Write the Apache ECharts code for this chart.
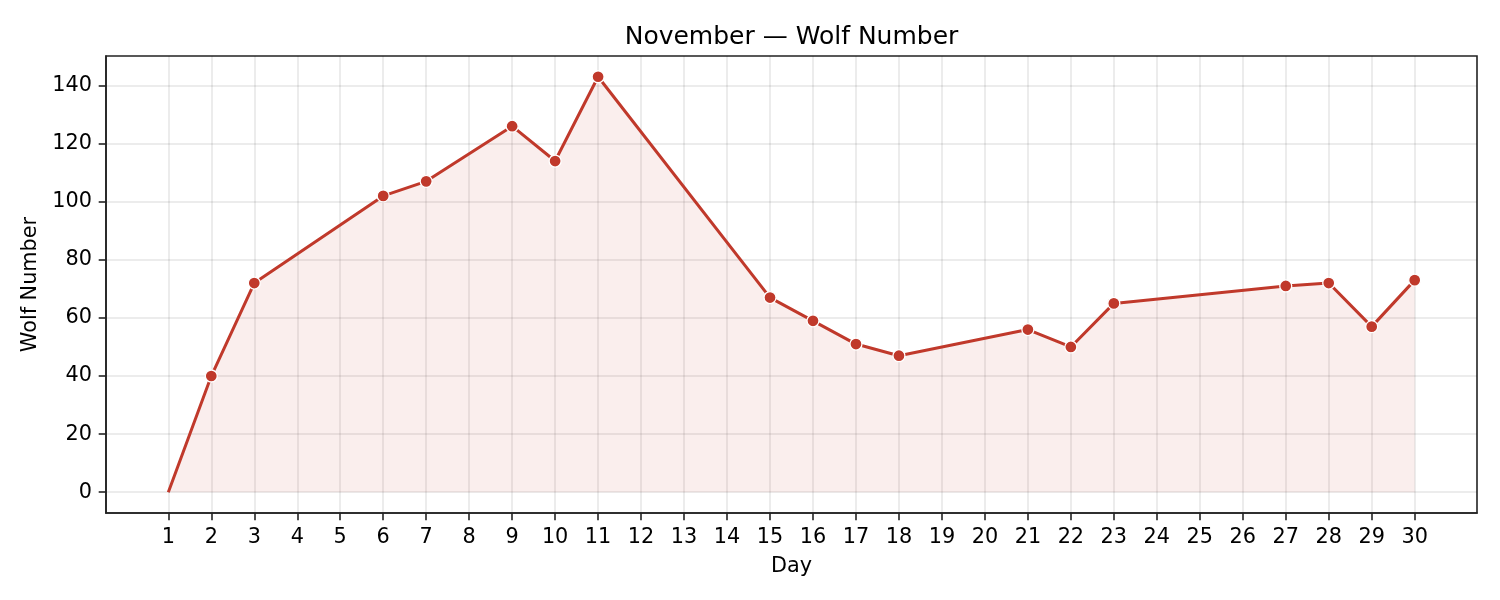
<!DOCTYPE html>
<html>
<head>
<meta charset="utf-8">
<script src="https://cdn.jsdelivr.net/npm/echarts@6/dist/echarts.min.js"></script>
<style>
html,body{margin:0;padding:0;background:#fff;}
#chart{width:1500px;height:600px;}
</style>
</head>
<body>
<div id="chart"></div>
<script>
const days   = [1, 2, 3, 6, 7, 9, 10, 11, 15, 16, 17, 18, 21, 22, 23, 27, 28, 29, 30];
const values = [0, 40, 72, 102, 107, 126, 114, 143, 67, 59, 51, 47, 56, 50, 65, 71, 72, 57, 73];
const xTicks = [1,2,3,4,5,6,7,8,9,10,11,12,13,14,15,16,17,18,19,20,21,22,23,24,25,26,27,28,29,30];
const yTicks = [0, 20, 40, 60, 80, 100, 120, 140];

const FONT = 'DejaVu Sans';
const RED = '#c0392b';

const seriesData = days.map((d, i) => {
  const item = { value: [d, values[i]] };
  if (values[i] === 0) item.symbol = 'none';
  return item;
});

const chart = echarts.init(document.getElementById('chart'), null, { renderer: 'canvas' });
chart.setOption({
  animation: false,
  backgroundColor: '#fff',
  textStyle: { fontFamily: FONT },
  title: {
    text: 'November \u2014 Wolf Number',
    left: 791.5,
    textAlign: 'center',
    top: 25,
    padding: 0,
    textStyle: { fontFamily: FONT, fontSize: 25, fontWeight: 'normal', color: '#000' }
  },
  grid: {
    left: 106, right: 23, top: 56, bottom: 87,
    show: true, borderColor: '#222', borderWidth: 1.6, backgroundColor: 'transparent'
  },
  xAxis: {
    type: 'value',
    min: -0.45, max: 31.45,
    name: 'Day',
    nameLocation: 'middle',
    nameGap: 43,
    nameTextStyle: { fontFamily: FONT, fontSize: 20.8, color: '#000' },
    axisLine: { show: true, onZero: false, lineStyle: { color: '#222', width: 1.6 } },
    axisTick: { show: true, length: 7.3, lineStyle: { color: '#222', width: 1.6 }, customValues: xTicks },
    axisLabel: { fontFamily: FONT, fontSize: 20.8, color: '#000', margin: 14, customValues: xTicks },
    splitLine: { show: true, lineStyle: { color: 'rgba(0,0,0,0.1)', width: 1.5 } }
  },
  yAxis: {
    type: 'value',
    min: -7.15, max: 150.15,
    name: 'Wolf Number',
    nameLocation: 'middle',
    nameRotate: 90,
    nameGap: 55,
    nameTextStyle: { fontFamily: FONT, fontSize: 20.8, color: '#000' },
    axisLine: { show: true, onZero: false, lineStyle: { color: '#222', width: 1.6 } },
    axisTick: { show: true, length: 7.3, lineStyle: { color: '#222', width: 1.6 }, customValues: yTicks },
    axisLabel: { fontFamily: FONT, fontSize: 20.8, color: '#000', margin: 14, customValues: yTicks },
    splitLine: { show: true, lineStyle: { color: 'rgba(0,0,0,0.1)', width: 1.5 } }
  },
  series: [{
    type: 'line',
    data: seriesData,
    symbol: 'circle',
    symbolSize: 12,
    showSymbol: true,
    lineStyle: { color: RED, width: 3 },
    itemStyle: { color: RED, borderColor: '#fff', borderWidth: 1.3 },
    areaStyle: { color: 'rgba(192,57,43,0.12)', origin: 'auto' },
    z: 3
  }]
});
</script>
</body>
</html>
